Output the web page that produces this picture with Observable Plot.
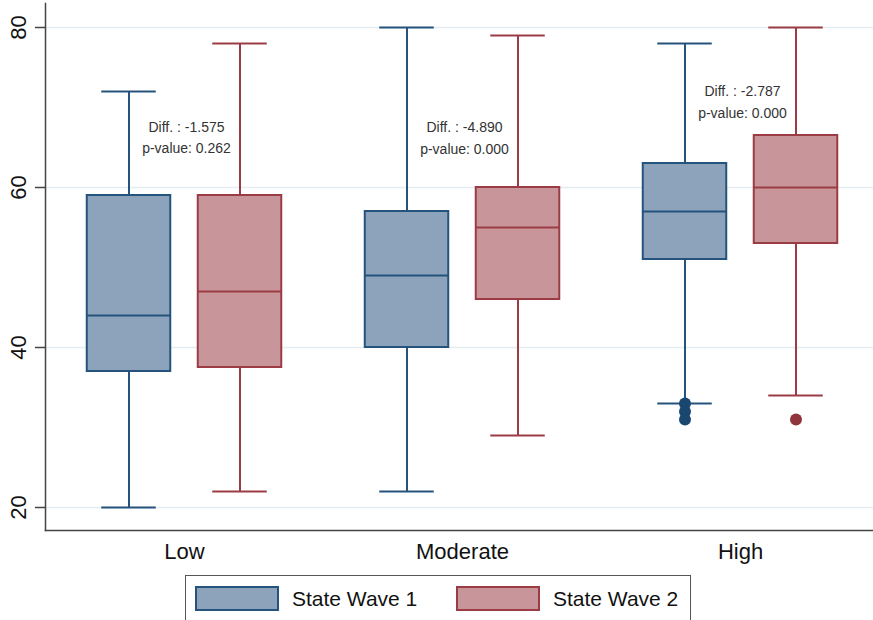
<!DOCTYPE html>
<html>
<head>
<meta charset="utf-8">
<script src="https://cdn.jsdelivr.net/npm/d3@7"></script>
<script src="https://cdn.jsdelivr.net/npm/@observablehq/plot@0.6"></script>
<style>
  html, body { margin: 0; padding: 0; background: #fff; overflow: hidden; }
  body { width: 873px; height: 620px; font-family: "Liberation Sans", Arial, Helvetica, sans-serif; }
  #chart svg { display: block; }
  .legend { position: absolute; left: 185px; top: 575px; width: 506px; height: 46px; border: 1.5px solid #555; box-sizing: border-box; background: #fff; }
  .item { position: absolute; top: 10px; display: flex; align-items: center; font-size: 21px; color: #111; }
  .sw { width: 80px; height: 21px; border: 2px solid; margin-right: 13px; box-sizing: content-box; }
</style>
</head>
<body>
<div id="chart"></div>
<div class="legend">
  <div class="item" style="left:9px"><span class="sw" style="background:#8ca3bb;border-color:#24537d"></span><span id="lg1"></span></div>
  <div class="item" style="left:270px"><span class="sw" style="background:#c8969a;border-color:#9b3c44"></span><span id="lg2"></span></div>
</div>
<script>
// ---- data ----
const categories = ["Low", "Moderate", "High"];
const seriesNames = ["State Wave 1", "State Wave 2"];

const wave1Lower  = [20, 22, 33];
const wave1Q1     = [37, 40, 51];
const wave1Median = [44, 49, 57];
const wave1Q3     = [59, 57, 63];
const wave1Upper  = [72, 80, 78];

const wave2Lower  = [22, 29, 34];
const wave2Q1     = [37.5, 46, 53];
const wave2Median = [47, 55, 60];
const wave2Q3     = [59, 60, 66.5];
const wave2Upper  = [78, 79, 80];

const wave1OutlierCat   = ["High", "High", "High"];
const wave1OutlierValue = [33, 32, 31];
const wave2OutlierCat   = ["High"];
const wave2OutlierValue = [31];

const diffLabels  = ["Diff. : -1.575", "Diff. : -4.890", "Diff. : -2.787"];
const pLabels     = ["p-value: 0.262", "p-value: 0.000", "p-value: 0.000"];
const annotationY = [66.5, 66.4, 70.9];

const yTicks = [20, 40, 60, 80];

// ---- build tables ----
const mk = (lo, q1, med, q3, up) => categories.map((c, i) => ({cat: c, lo: lo[i], q1: q1[i], med: med[i], q3: q3[i], up: up[i]}));
const w1 = mk(wave1Lower, wave1Q1, wave1Median, wave1Q3, wave1Upper);
const w2 = mk(wave2Lower, wave2Q1, wave2Median, wave2Q3, wave2Upper);
const o1 = wave1OutlierCat.map((c, i) => ({cat: c, v: wave1OutlierValue[i]}));
const o2 = wave2OutlierCat.map((c, i) => ({cat: c, v: wave2OutlierValue[i]}));
const ann = categories.map((c, i) => ({cat: c, y: annotationY[i], t: diffLabels[i] + "\n" + pLabels[i]}));

document.getElementById("lg1").textContent = seriesNames[0];
document.getElementById("lg2").textContent = seriesNames[1];

const band = (879.5 - 44) / 3;
const boxInset = (band - 84) / 2;
const capInset = (band - 55) / 2;

function boxMarks(data, outl, dx, fill, stroke, dotFill) {
  return [
    Plot.ruleX(data, {x: "cat", y1: "q3", y2: "up", dx, stroke, strokeWidth: 2}),
    Plot.ruleX(data, {x: "cat", y1: "lo", y2: "q1", dx, stroke, strokeWidth: 2}),
    Plot.tickY(data, {x: "cat", y: "up", dx, stroke, strokeWidth: 2, insetLeft: capInset, insetRight: capInset}),
    Plot.tickY(data, {x: "cat", y: "lo", dx, stroke, strokeWidth: 2, insetLeft: capInset, insetRight: capInset}),
    Plot.barY(data, {x: "cat", y1: "q1", y2: "q3", dx, fill, stroke, strokeWidth: 2, insetLeft: boxInset, insetRight: boxInset}),
    Plot.tickY(data, {x: "cat", y: "med", dx, stroke, strokeWidth: 2, insetLeft: boxInset, insetRight: boxInset}),
    Plot.dot(outl, {x: "cat", y: "v", dx, r: 6, fill: dotFill, stroke: "none"})
  ];
}

const chart = Plot.plot({
  width: 873,
  height: 570,
  marginLeft: 45,
  marginRight: 0,
  marginTop: 3,
  marginBottom: 40,
  style: {fontFamily: "'Liberation Sans', Arial, Helvetica, sans-serif", background: "#fff", overflow: "hidden"},
  x: {type: "band", domain: categories, range: [44, 879.5], padding: 0},
  y: {domain: [17.125, 83]},
  marks: [
    Plot.gridY(yTicks, {stroke: "#e4ecef", strokeOpacity: 1, strokeWidth: 1.5}),
    ...boxMarks(w1, o1, -55.5, "#8ca3bb", "#24537d", "#1a476f"),
    ...boxMarks(w2, o2, 55.5, "#c8969a", "#9b3c44", "#90353b"),
    Plot.text(ann, {x: "cat", y: "y", text: "t", fontSize: 14, lineHeight: 1.55, fill: "#333", lineAnchor: "middle", dx: 2}),
    Plot.axisY(yTicks, {tickSize: 10, tickPadding: 10, tickRotate: -90, fontSize: 22, stroke: "#444", strokeWidth: 1.5, fill: "#111"}),
    Plot.axisX({tickSize: 0, tickPadding: 13, fontSize: 22, fill: "#111", label: null}),
    Plot.frame({anchor: "left", stroke: "#444", strokeWidth: 1.5}),
    Plot.frame({anchor: "bottom", stroke: "#444", strokeWidth: 1.5})
  ]
});
document.getElementById("chart").appendChild(chart);
</script>
</body>
</html>
